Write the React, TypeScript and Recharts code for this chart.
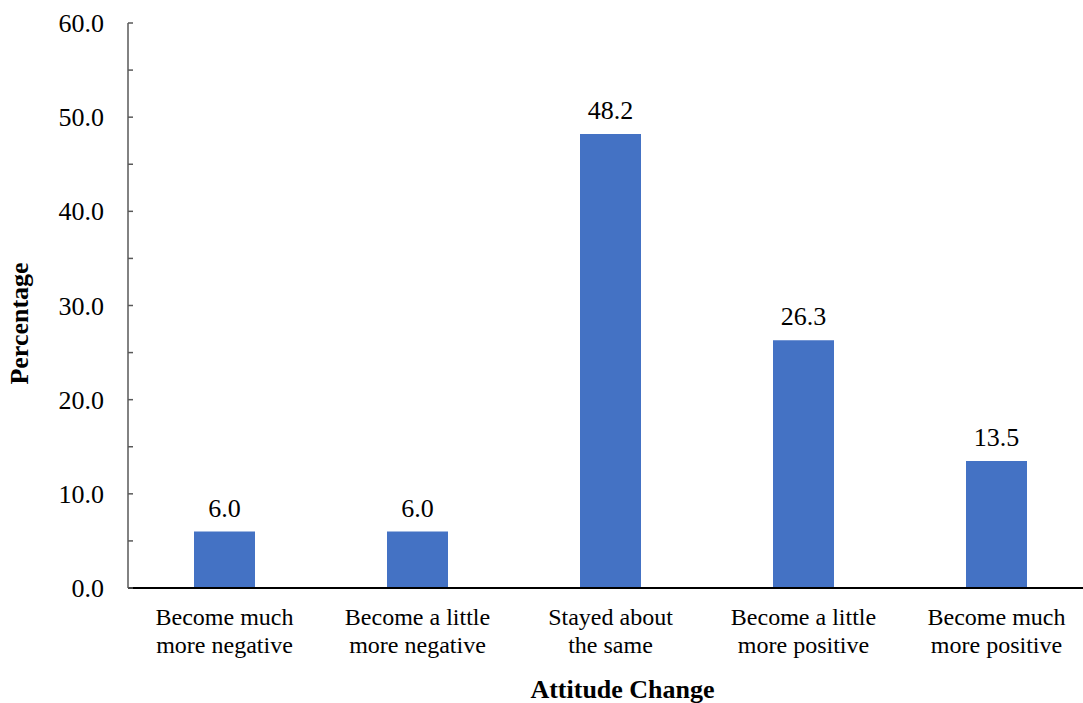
import React from 'react';
import { BarChart, Bar, XAxis, YAxis, LabelList, Label } from 'recharts';

// Survey responses: share of respondents per attitude-change category (%)
const categories = [
  'Become much more negative',
  'Become a little more negative',
  'Stayed about the same',
  'Become a little more positive',
  'Become much more positive',
];
const categoryLines = [
  ['Become much', 'more negative'],
  ['Become a little', 'more negative'],
  ['Stayed about', 'the same'],
  ['Become a little', 'more positive'],
  ['Become much', 'more positive'],
];
const percentages = [6.0, 6.0, 48.2, 26.3, 13.5];
const yTicks = [0, 5, 10, 15, 20, 25, 30, 35, 40, 45, 50, 55, 60];

const data = categories.map((c, i) => ({ category: c, value: percentages[i] }));

const FONT = '"Liberation Serif", "Times New Roman", serif';

const CategoryTick = (props: any) => {
  const { x, y, payload } = props;
  const idx = categories.indexOf(payload.value);
  const lines = idx >= 0 ? categoryLines[idx] : [String(payload.value)];
  return (
    <text x={x} y={y} textAnchor="middle" fontFamily={FONT} fontSize={24} fill="#000">
      {lines.map((ln, i) => (
        <tspan key={i} x={x} dy={i === 0 ? 37 : 28}>
          {ln}
        </tspan>
      ))}
    </text>
  );
};

const ValueTick = (props: any) => {
  const { x, y, payload } = props;
  const v = payload.value as number;
  if (v % 10 !== 0) return null;
  return (
    <text x={x} y={y} dy={9} textAnchor="end" fontFamily={FONT} fontSize={26} fill="#000">
      {v.toFixed(1)}
    </text>
  );
};

const BarValue = (props: any) => {
  const { x, y, width, value } = props;
  return (
    <text x={x + width / 2} y={y - 15} textAnchor="middle" fontFamily={FONT} fontSize={26} fill="#000">
      {Number(value).toFixed(1)}
    </text>
  );
};

const YTitle = (props: any) => {
  const { viewBox } = props;
  const cx = viewBox.x + 28;
  const cy = viewBox.y + viewBox.height / 2 + 18;
  return (
    <text
      x={cx}
      y={cy}
      transform={`rotate(-90, ${cx}, ${cy})`}
      textAnchor="middle"
      fontFamily={FONT}
      fontSize={26}
      fontWeight="bold"
      fill="#000"
    >
      Percentage
    </text>
  );
};

const XTitle = (props: any) => {
  const { viewBox } = props;
  const cx = viewBox.x + viewBox.width / 2 + 12;
  const cy = viewBox.y + 110;
  return (
    <text x={cx} y={cy} textAnchor="middle" fontFamily={FONT} fontSize={26} fontWeight="bold" fill="#000">
      Attitude Change
    </text>
  );
};

export default function App() {
  return (
    <div
      style={{
        position: 'absolute',
        left: 0,
        top: 0,
        width: 1083,
        height: 703,
        overflow: 'hidden',
        background: '#fff',
        fontFamily: FONT,
      }}
    >
      <BarChart width={1100} height={703} data={data} margin={{ top: 23, right: 7, left: 0, bottom: 0 }}>
        <XAxis
          dataKey="category"
          interval={0}
          height={115}
          tickLine={false}
          tickSize={0}
          tickMargin={0}
          axisLine={{ stroke: '#000', strokeWidth: 2 }}
          tick={<CategoryTick />}
        >
          <Label content={<XTitle />} />
        </XAxis>
        <YAxis
          width={128}
          domain={[0, 60]}
          ticks={yTicks}
          interval={0}
          tickSize={-5}
          tickMargin={29}
          axisLine={{ stroke: '#595959', strokeWidth: 1.5 }}
          tickLine={{ stroke: '#595959', strokeWidth: 1.5 }}
          tick={<ValueTick />}
        >
          <Label content={<YTitle />} />
        </YAxis>
        <Bar dataKey="value" fill="#4472C4" barSize={61} isAnimationActive={false}>
          <LabelList dataKey="value" content={<BarValue />} />
        </Bar>
      </BarChart>
    </div>
  );
}
